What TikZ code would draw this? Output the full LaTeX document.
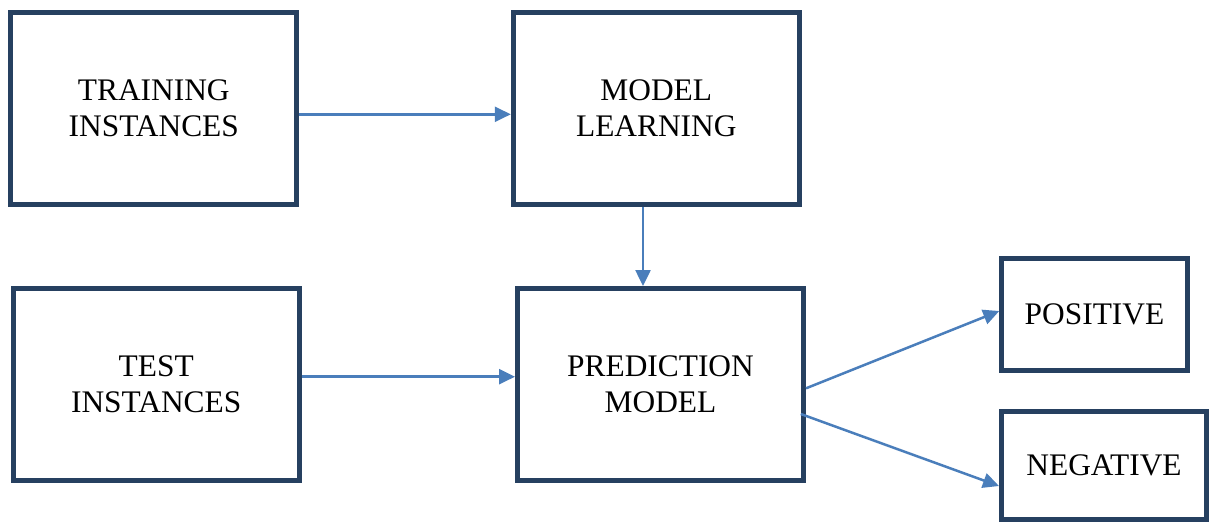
\documentclass[tikz,border=0pt]{standalone}
\usepackage{fontspec}
\setmainfont{Liberation Serif}
\usetikzlibrary{arrows.meta}
\definecolor{boxline}{HTML}{264060}
\definecolor{arrowblue}{HTML}{4A7EBB}
\begin{document}
\begin{tikzpicture}[x=0.5pt,y=-0.5pt,
  blockbox/.style={draw=boxline, line width=2.5pt, rectangle, align=center,
    font=\fontsize{15.7pt}{18.2pt}\selectfont, inner sep=0pt},
  bigbox/.style={blockbox, minimum width=143pt, minimum height=95.9pt},
  arr/.style={draw=arrowblue, line width=1.25pt, -{Triangle[length=8pt,width=7.5pt]}, fill=arrowblue}]
\useasboundingbox (0,0) rectangle (1210,521);
\node[bigbox] (train) at (153.8,108.4) {TRAINING\\INSTANCES};
\node[bigbox] (model) at (656.3,108.4) {MODEL\\LEARNING};
\node[bigbox] (test) at (156.2,384.4) {TEST\\INSTANCES};
\node[bigbox] (pred) at (660.5,384.4) {PREDICTION\\MODEL};
\node[blockbox, minimum width=92.75pt, minimum height=55.65pt] (pos) at (1094.5,314.4) {POSITIVE};
\node[blockbox, minimum width=102.5pt, minimum height=54.15pt] (neg) at (1104,465.4) {NEGATIVE};
\draw[arr] ([yshift=-2.95pt]train.east) -- ([yshift=-2.95pt]model.west);
\draw[arr] ([xshift=-6.65pt]model.south) -- ([xshift=-8.75pt]pred.north);
\draw[arr] ([yshift=3.85pt]test.east) -- ([yshift=3.85pt]pred.west);
\draw[arr] ([yshift=-1.95pt]pred.east) -- ([yshift=1.7pt]pos.west);
\draw[arr] ([xshift=-2.6pt,yshift=-14.8pt]pred.east) -- ([yshift=-10.3pt]neg.west);
\end{tikzpicture}
\end{document}
